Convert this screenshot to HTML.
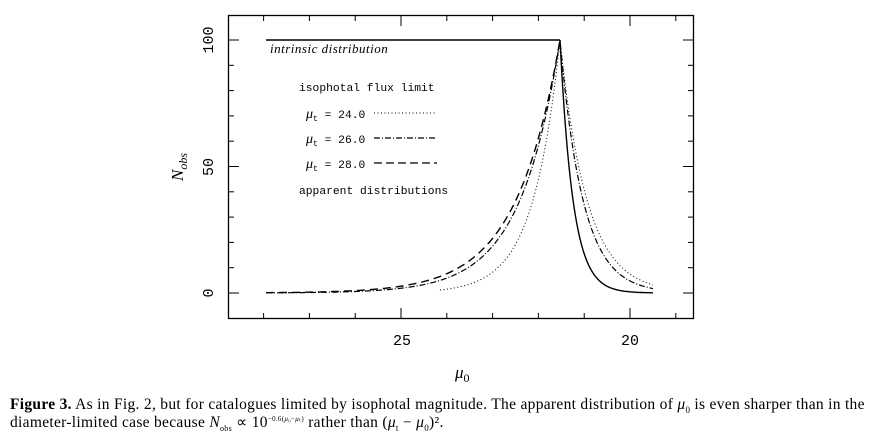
<!DOCTYPE html>
<html><head><meta charset="utf-8"><style>
body{margin:0;background:#fff;width:876px;height:441px;overflow:hidden}
svg{position:absolute;left:0;top:0}
.cap{position:absolute;left:10px;top:396px;font-family:"Liberation Serif",serif;font-size:15.5px;line-height:18px;color:#000;white-space:nowrap;letter-spacing:0.3px}
.cap sub,.cap sup{line-height:0}
</style></head><body>
<svg width="876" height="441" viewBox="0 0 876 441" font-family="Liberation Mono, monospace">
<rect x="228.5" y="15.5" width="465" height="303" fill="none" stroke="#000" stroke-width="1.3"/>
<g stroke="#000" stroke-width="1" id="ticks"></g>
<g font-size="15" fill="#000" text-anchor="middle">
<text x="402" y="345">25</text><text x="630" y="345">20</text>
<text transform="translate(213,40) rotate(-90)">100</text>
<text transform="translate(213,167) rotate(-90)">50</text>
<text transform="translate(213,293) rotate(-90)">0</text>
</g>
<text transform="translate(183,167) rotate(-90)" font-family="Liberation Serif,serif" font-size="17" font-style="italic" text-anchor="middle">N<tspan font-size="12" dy="4">obs</tspan></text>
<text x="455" y="378" font-family="Liberation Serif,serif" font-size="17" font-style="italic">μ<tspan font-size="12" dy="4" font-style="normal">0</tspan></text>
<g font-size="11.3" fill="#000">
<text x="270" y="53" font-family="Liberation Serif,serif" font-style="italic" font-size="13" letter-spacing="0.5">intrinsic distribution</text>
<text x="299" y="91">isophotal flux limit</text>
<text x="306" y="118"><tspan font-family="Liberation Serif,serif" font-style="italic" font-size="14">μ</tspan><tspan font-size="8" dy="3">t</tspan><tspan dy="-3"> = 24.0</tspan></text>
<text x="306" y="143"><tspan font-family="Liberation Serif,serif" font-style="italic" font-size="14">μ</tspan><tspan font-size="8" dy="3">t</tspan><tspan dy="-3"> = 26.0</tspan></text>
<text x="306" y="168"><tspan font-family="Liberation Serif,serif" font-style="italic" font-size="14">μ</tspan><tspan font-size="8" dy="3">t</tspan><tspan dy="-3"> = 28.0</tspan></text>
<text x="299" y="194">apparent distributions</text>
</g>
<g fill="none" stroke="#000">
<line x1="374" y1="113" x2="437" y2="113" stroke-dasharray="1,2.5" stroke-width="1"/>
<line x1="374" y1="138" x2="437" y2="138" stroke-dasharray="6,2,1,2" stroke-width="1.2"/>
<line x1="374" y1="163" x2="437" y2="163" stroke-dasharray="8,4" stroke-width="1.3"/>
<polyline points="266,40 560,40" stroke-width="1.6"/>
<path id="pdot" stroke-dasharray="1,2.5" stroke-width="1"/>
<path id="pdd" stroke-dasharray="6,2,1,2" stroke-width="1.2"/>
<path id="pdash" stroke-dasharray="8,5" stroke-width="1.4"/>
<path id="psol" stroke-width="1.4"/>
</g>
</svg>
<div class="cap"><b>Figure 3.</b> As in Fig. 2, but for catalogues limited by isophotal magnitude. The apparent distribution of <i>μ</i><sub style="font-size:9px">0</sub> is even sharper than in the<br>diameter-limited case because <i>N</i><sub style="font-size:8px">obs</sub> ∝ 10<sup style="font-size:7px">−0.6(<i>μ</i>₀−<i>μ</i>ₜ)</sup> rather than (<i>μ</i><sub style="font-size:9px">t</sub> − <i>μ</i><sub style="font-size:9px">0</sub>)².</div>
<script>
function Y(n){return 293-n*2.53}
function curve(aL,aR,x0,x1){var s="";for(var x=x0;x<=x1;x+=1){var n=x<=560?100*Math.exp(-(560-x)/aL):100*Math.exp(-(x-560)/aR);s+=(s?"L":"M")+x+","+Y(n).toFixed(1);}return s;}
document.getElementById("pdot").setAttribute("d",curve(27,27,440,653));
document.getElementById("pdd").setAttribute("d",curve(40,23,266,653));
document.getElementById("pdash").setAttribute("d",curve(44,13,266,560));
document.getElementById("psol").setAttribute("d",curve(44,13,560,653));
var t=document.getElementById("ticks"),h="";
for(var m=19;m<=28;m++){var x=401+(25-m)*45.8;var L=(m%5==0)?10:5;h+='<line x1="'+x+'" y1="318" x2="'+x+'" y2="'+(318-L)+'"/><line x1="'+x+'" y1="16" x2="'+x+'" y2="'+(16+L)+'"/>';}
for(var n=-10;n<=110;n+=10){var y=Y(n);if(y<16||y>318)continue;var L=(n%50==0)?10:5;h+='<line x1="229" y1="'+y+'" x2="'+(229+L)+'" y2="'+y+'"/><line x1="693" y1="'+y+'" x2="'+(693-L)+'" y2="'+y+'"/>';}
t.innerHTML=h;
</script>
</body></html>
